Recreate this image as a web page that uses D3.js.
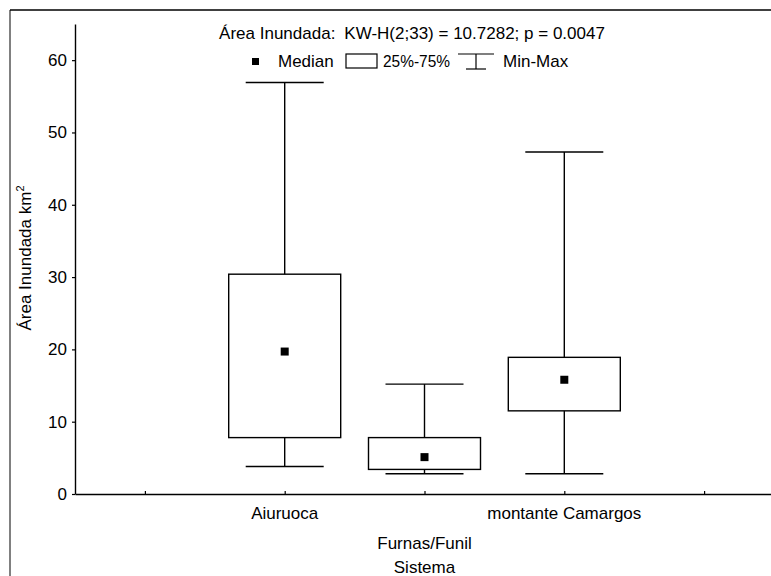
<!DOCTYPE html>
<head>
	<meta charset="utf-8" />
	<style>
		body { margin: 0; background: #fff; }
		text { font-family: 'Liberation Sans', Arial, sans-serif; fill: #000; }
	</style>
</head>
<body>
	<svg id="chart" width="771" height="576"></svg>
	<script src="https://d3js.org/d3.v7.min.js"></script>
	<script>
		// data
		const groups = ['Aiuruoca', 'Furnas/Funil', 'montante Camargos'];
		const mins = [3.8, 2.8, 2.8];
		const q1s = [7.8, 3.4, 11.5];
		const medians = [19.7, 5.1, 15.8];
		const q3s = [30.4, 7.8, 18.9];
		const maxs = [56.9, 15.2, 47.3];
		const yTicks = [0, 10, 20, 30, 40, 50, 60];
		const xTicks = [0, 1, 2, 3, 4];

		const fs = '17px';
		const svg = d3.select('#chart');
		const margin = { left: 75, top: 24, bottom: 494 };

		const x = d3.scaleLinear().domain([-0.5, 4.5]).range([margin.left, 774]);
		const y = d3.scaleLinear().domain([0, 65]).range([margin.bottom, margin.top]);

		// outer frame (only top and left edges are visible)
		svg.append('line').attr('x1', 10).attr('x2', 10).attr('y1', 10).attr('y2', 576)
			.attr('stroke', '#808080').attr('stroke-width', 2);
		svg.append('line').attr('x1', 10).attr('x2', 771).attr('y1', 10).attr('y2', 10)
			.attr('stroke', '#000').attr('stroke-width', 1.5);

		// y axis
		const yAxis = svg.append('g')
			.attr('transform', `translate(${margin.left},0)`)
			.call(d3.axisLeft(y).tickValues(yTicks).tickSize(3).tickPadding(5).tickSizeOuter(0));
		yAxis.select('.domain').attr('stroke-width', 1.4);
		yAxis.selectAll('.tick line').attr('stroke-width', 1.2);
		yAxis.selectAll('text').style('font-size', fs).attr('font-family', null);

		// x axis (ticks point inward)
		const xAxis = svg.append('g')
			.attr('transform', `translate(0,${margin.bottom})`)
			.call(d3.axisBottom(x).tickValues(xTicks).tickSize(-3).tickSizeOuter(0).tickFormat(''));
		xAxis.select('.domain').attr('stroke-width', 1.4);
		xAxis.selectAll('.tick line').attr('stroke-width', 1.2);

		// category labels (middle one staggered lower)
		svg.selectAll('.cat')
			.data(groups)
			.join('text')
			.attr('class', 'cat')
			.attr('x', (d, i) => x(i + 1))
			.attr('y', (d, i) => (i === 1 ? 549 : 519))
			.attr('text-anchor', 'middle')
			.style('font-size', fs)
			.text(d => d);

		svg.append('text').attr('x', x(2)).attr('y', 573).attr('text-anchor', 'middle')
			.style('font-size', fs).text('Sistema');

		// y title
		const yt = svg.append('text')
			.attr('transform', 'translate(31,258) rotate(-90)')
			.attr('text-anchor', 'middle')
			.style('font-size', fs);
		yt.append('tspan').text('Área Inundada km');
		yt.append('tspan').attr('dy', -7).style('font-size', '11px').text('2');

		// boxes
		const boxW = 112, capW = 78, med = 8;
		const g = svg.selectAll('.box')
			.data(groups.map((name, i) => ({ name, i, min: mins[i], q1: q1s[i], med: medians[i], q3: q3s[i], max: maxs[i] })))
			.join('g')
			.attr('class', 'box')
			.attr('stroke', '#000')
			.attr('stroke-width', 1.4);

		g.append('line')
			.attr('x1', d => x(d.i + 1)).attr('x2', d => x(d.i + 1))
			.attr('y1', d => y(d.max)).attr('y2', d => y(d.min));
		g.append('rect')
			.attr('x', d => x(d.i + 1) - boxW / 2).attr('width', boxW)
			.attr('y', d => y(d.q3)).attr('height', d => y(d.q1) - y(d.q3))
			.attr('fill', '#fff');
		g.append('line')
			.attr('x1', d => x(d.i + 1) - capW / 2).attr('x2', d => x(d.i + 1) + capW / 2)
			.attr('y1', d => y(d.max)).attr('y2', d => y(d.max));
		g.append('line')
			.attr('x1', d => x(d.i + 1) - capW / 2).attr('x2', d => x(d.i + 1) + capW / 2)
			.attr('y1', d => y(d.min)).attr('y2', d => y(d.min));
		g.append('rect')
			.attr('x', d => x(d.i + 1) - med / 2).attr('width', med)
			.attr('y', d => y(d.med) - med / 2).attr('height', med)
			.attr('fill', '#000').attr('stroke', 'none');

		// title
		const title = svg.append('text').attr('x', 412).attr('y', 39).attr('text-anchor', 'middle')
			.style('font-size', fs);
		title.append('tspan').text('Área Inundada:');
		title.append('tspan').attr('dx', 9).text('KW-H(2;33) = 10.7282; p = 0.0047');

		// legend
		const lg = svg.append('g').attr('transform', 'translate(0,61)');
		lg.append('rect').attr('x', 252).attr('y', -3).attr('width', 7).attr('height', 7).attr('fill', '#000');
		lg.append('text').attr('x', 278).attr('y', 6).style('font-size', fs).text('Median');
		lg.append('rect').attr('x', 346).attr('y', -7).attr('width', 31).attr('height', 14)
			.attr('fill', 'none').attr('stroke', '#000').attr('stroke-width', 1.2);
		lg.append('text').attr('x', 383).attr('y', 6).style('font-size', fs)
			.attr('textLength', 67).attr('lengthAdjust', 'spacingAndGlyphs').text('25%-75%');
		const wl = lg.append('g').attr('stroke', '#000').attr('stroke-width', 1.2);
		wl.append('line').attr('x1', 458).attr('x2', 494).attr('y1', -7).attr('y2', -7);
		wl.append('line').attr('x1', 466).attr('x2', 486).attr('y1', 8).attr('y2', 8);
		wl.append('line').attr('x1', 476).attr('x2', 476).attr('y1', -7).attr('y2', 8);
		lg.append('text').attr('x', 503).attr('y', 6).style('font-size', fs).text('Min-Max');
	</script>
</body>
